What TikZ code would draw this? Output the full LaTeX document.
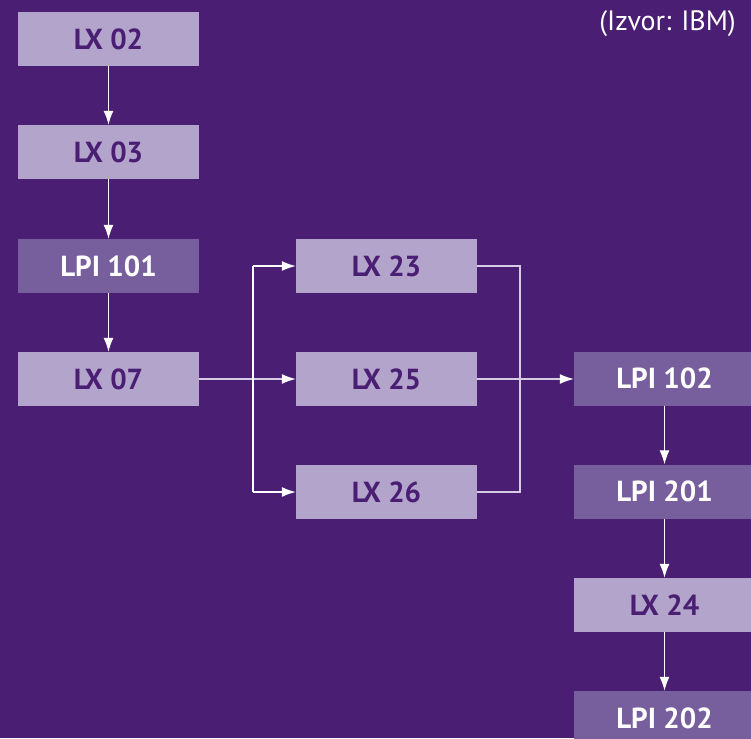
\documentclass[tikz,border=0pt]{standalone}
\usepackage{fontspec}
\setmainfont{PT Sans}
\usetikzlibrary{arrows.meta}
\definecolor{bgpurple}{HTML}{4A1E73}
\definecolor{lightbox}{HTML}{B3A4CB}
\definecolor{midbox}{HTML}{775E9C}
\definecolor{paleline}{HTML}{D6CCE4}
\tikzset{
  box/.style={minimum width=181pt, minimum height=54pt, inner sep=0pt, font=\fontsize{29}{32}\selectfont\bfseries},
  lbox/.style={box, fill=lightbox, text=bgpurple},
  mbox/.style={box, fill=midbox, text=white},
  arr/.style={draw=white, line width=1.3pt, -{Latex[length=14pt,width=10pt]}},
  pln/.style={draw=paleline, line width=1.3pt},
  parr/.style={pln, -{Latex[length=14pt,width=10pt,color=white]}},
}
\begin{document}
\begin{tikzpicture}[x=1pt,y=-1pt]
\fill[bgpurple] (0,0) rectangle (751,738);
\useasboundingbox (0,0) rectangle (751,738);
\clip (0,0) rectangle (751,738);
\node[lbox] (lx02) at (108.5,39) {LX 02};
\node[lbox] (lx03) at (108.5,152) {LX 03};
\node[mbox] (lpi101) at (108.5,266) {LPI 101};
\node[lbox] (lx07) at (108.5,379) {LX 07};
\node[lbox] (lx23) at (386.5,266) {LX 23};
\node[lbox] (lx25) at (386.5,379) {LX 25};
\node[lbox] (lx26) at (386.5,492) {LX 26};
\node[mbox] (lpi102) at (664.5,378.5) {LPI 102};
\node[mbox] (lpi201) at (664.5,491.5) {LPI 201};
\node[lbox] (lx24) at (664.5,605) {LX 24};
\node[mbox] (lpi202) at (664.5,718) {LPI 202};
\node[text=white, font=\fontsize{28}{30}\selectfont, anchor=north east, inner sep=0pt] (src) at (736,10) {(Izvor: IBM)};
\coordinate (splitT) at (253,266);
\coordinate (splitB) at (253,492);
\coordinate (joinT) at (520,266);
\coordinate (joinB) at (520,492);
\draw[arr] (lx02) -- (lx03);
\draw[arr] (lx03) -- (lpi101);
\draw[arr] (lpi101) -- (lx07);
\draw[parr] (lx07) -- (lx25);
\draw[white, line width=1.3pt] (splitT) -- (splitB);
\draw[arr] (splitT) -- (lx23.west);
\draw[arr] (splitB) -- (lx26.west);
\draw[pln] (lx23.east) -- (joinT) -- (joinB) -- (lx26.east);
\draw[parr] (lx25.east) -- (lx25.east -| lpi102.west);
\draw[arr] (lpi102) -- (lpi201);
\draw[arr] (lpi201) -- (lx24);
\draw[arr] (lx24) -- (lpi202);
\end{tikzpicture}
\end{document}
